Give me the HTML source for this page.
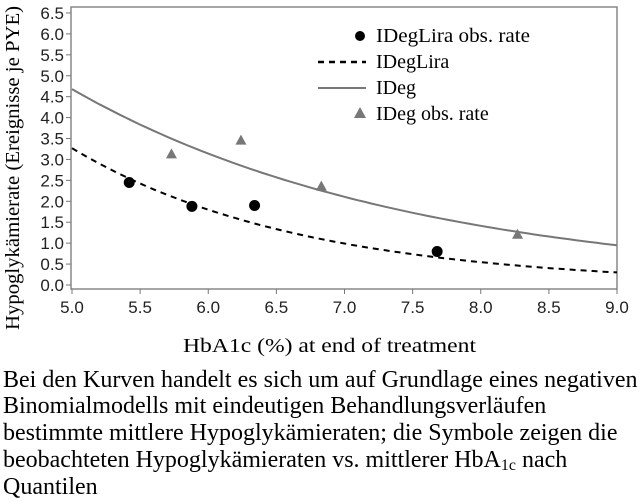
<!DOCTYPE html>
<html><head><meta charset="utf-8"><style>
body{margin:0;background:#fff;width:641px;height:502px;overflow:hidden}
svg{display:block}
.t{font-family:"Liberation Sans",sans-serif;font-size:17px;fill:#222}
.s{font-family:"Liberation Serif",serif;fill:#000}
</style></head><body>
<svg id="c" width="641" height="502" xmlns="http://www.w3.org/2000/svg">
<rect x="71" y="7" width="546" height="282" fill="none" stroke="#777" stroke-width="1.3"/>
<g id="ticks"></g>
<path id="ideg" fill="none" stroke="#777" stroke-width="2"/>
<path id="lira" fill="none" stroke="#000" stroke-width="2" stroke-dasharray="6,5"/>
<g id="pts"></g>
<text class="s" x="19" y="168" font-size="20" transform="rotate(-90 19 168)" text-anchor="middle" textLength="324" lengthAdjust="spacingAndGlyphs">Hypoglykämierate  (Ereignisse je PYE)</text>
<text class="s" x="183" y="352" font-size="20" textLength="293" lengthAdjust="spacingAndGlyphs">HbA1c (%)  at end of treatment</text>
<circle cx="360" cy="36" r="5" fill="#000"/>
<text class="s" x="376" y="42" font-size="20" textLength="154" lengthAdjust="spacingAndGlyphs">IDegLira obs. rate</text>
<line x1="318" y1="62" x2="366" y2="62" stroke="#000" stroke-width="2.5" stroke-dasharray="6,5"/>
<text class="s" x="376" y="68" font-size="20">IDegLira</text>
<line x1="318" y1="88" x2="366" y2="88" stroke="#777" stroke-width="2"/>
<text class="s" x="376" y="94" font-size="20">IDeg</text>
<polygon points="360,107 354,118 366,118" fill="#777"/>
<text class="s" x="376" y="120" font-size="20">IDeg obs. rate</text>
<g class="s" font-size="24">
<text x="3" y="387">Bei den Kurven handelt es sich um auf Grundlage eines negativen</text>
<text x="3" y="413">Binomialmodells mit eindeutigen Behandlungsverläufen</text>
<text x="3" y="440">bestimmte mittlere Hypoglykämieraten; die Symbole zeigen die</text>
<text x="3" y="467">beobachteten Hypoglykämieraten vs. mittlerer HbA<tspan font-size="16" dy="3">1c</tspan><tspan dy="-3"> nach</tspan></text>
<text x="3" y="494">Quantilen</text>
</g>
</svg>
<script>
var X=function(v){return 72+(v-5)*136.25},Y=function(v){return 285-v*41.85};
var t=document.getElementById("ticks"),h="";
for(var i=0;i<=13;i++){var v=i*0.5,y=Y(v);h+='<line x1="66" x2="71" y1="'+y+'" y2="'+y+'" stroke="#777"/><text class="t" x="64" y="'+(y+6)+'" text-anchor="end">'+v.toFixed(1)+'</text>';}
for(var i=0;i<=8;i++){var v=5+i*0.5,x=X(v);h+='<line x1="'+x+'" x2="'+x+'" y1="289" y2="294" stroke="#777"/><text class="t" x="'+x+'" y="313" text-anchor="middle">'+v.toFixed(1)+'</text>';}
t.innerHTML=h;
function p(a,k){var s="";for(var v=5;v<=9.001;v+=0.05){s+=(s?"L":"M")+X(v).toFixed(1)+","+Y(a*Math.exp(-k*(v-5))).toFixed(1);}return s;}
document.getElementById("ideg").setAttribute("d",p(4.68,0.399));
document.getElementById("lira").setAttribute("d",p(3.27,0.597));
var g="";[[5.42,2.45],[5.88,1.88],[6.34,1.9],[7.68,0.8]].forEach(function(q){g+='<circle cx="'+X(q[0])+'" cy="'+Y(q[1])+'" r="5.5" fill="#000"/>';});
[[5.73,3.12],[6.24,3.45],[6.83,2.35],[8.27,1.2]].forEach(function(q){var x=X(q[0]),y=Y(q[1]);g+='<polygon points="'+x+','+(y-6)+' '+(x-5.5)+','+(y+4)+' '+(x+5.5)+','+(y+4)+'" fill="#777"/>';});
document.getElementById("pts").innerHTML=g;
</script>
</body></html>
